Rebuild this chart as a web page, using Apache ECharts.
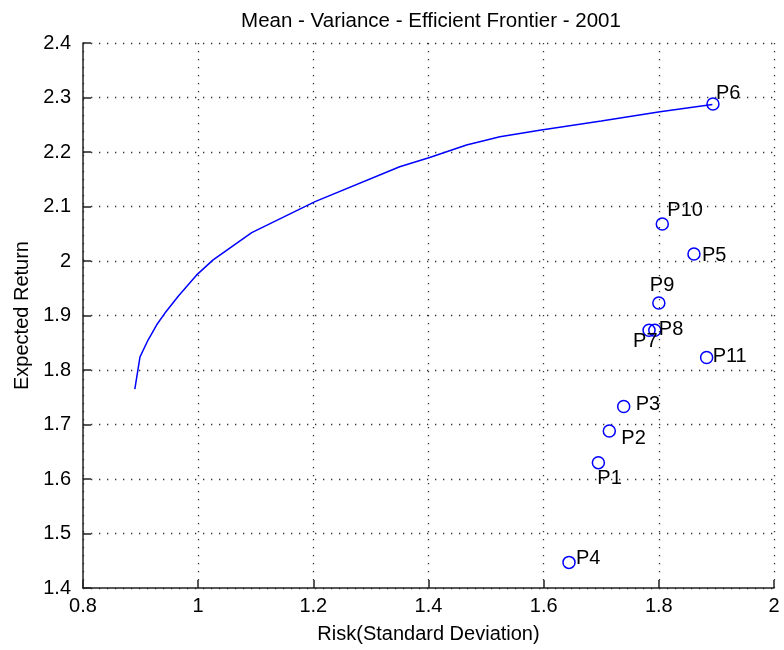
<!DOCTYPE html>
<html>
<head>
<meta charset="utf-8">
<script src="https://cdn.jsdelivr.net/npm/echarts@6/dist/echarts.min.js"></script>
<style>
  html, body { margin: 0; padding: 0; background: #fff; }
  #chart { width: 784px; height: 650px; }
</style>
</head>
<body>
<div id="chart"></div>
<script>
// Efficient frontier (risk, return) pairs
const frontierRisk   = [0.890, 0.899, 0.913, 0.928, 0.942, 0.965, 0.997, 1.026, 1.093, 1.203, 1.350, 1.402, 1.466, 1.524, 1.593, 1.700, 1.802, 1.893];
const frontierReturn = [1.765, 1.824, 1.855, 1.883, 1.904, 1.935, 1.974, 2.002, 2.052, 2.109, 2.173, 2.190, 2.213, 2.228, 2.240, 2.257, 2.274, 2.287];

// Individual portfolios
const portfolioNames  = ['P1', 'P2', 'P3', 'P4', 'P5', 'P6', 'P7', 'P8', 'P9', 'P10', 'P11'];
const portfolioRisk   = [1.695, 1.714, 1.739, 1.644, 1.861, 1.894, 1.783, 1.793, 1.800, 1.806, 1.883];
const portfolioReturn = [1.630, 1.688, 1.733, 1.447, 2.013, 2.288, 1.873, 1.873, 1.923, 2.068, 1.823];

// Axis ticks
const xTicks = { min: 0.8, max: 2.0, step: 0.2 };
const yTicks = { min: 1.4, max: 2.4, step: 0.1 };

// Label placement relative to each marker (pixels: left edge, vertical centre)
const labelOffsets = [[-1, 16], [12, 7], [12, -2], [7, -4], [8, 2], [3, -11], [-16, 11], [4, -1], [-9, -17], [5, -13], [6, -1]];

const FONT = 'Liberation Sans, Arial, sans-serif';
const gridDots = { color: '#333', width: 1.3, type: [1.3, 6.7] };

const chart = echarts.init(document.getElementById('chart'), null, { renderer: 'canvas' });

chart.setOption({
  animation: false,
  backgroundColor: '#fff',
  title: {
    text: 'Mean - Variance - Efficient Frontier - 2001',
    left: 426,
    textAlign: 'center',
    top: 6,
    textStyle: { fontFamily: FONT, fontSize: 20.5, fontWeight: 'normal', color: '#000' }
  },
  grid: { left: 83, right: 10, top: 43, bottom: 62, containLabel: false },
  xAxis: {
    type: 'value',
    min: xTicks.min, max: xTicks.max, interval: xTicks.step,
    name: 'Risk(Standard Deviation)',
    nameLocation: 'middle',
    nameGap: 36,
    nameTextStyle: { fontFamily: FONT, fontSize: 20, color: '#000' },
    axisLine: { show: true, onZero: false, lineStyle: { color: '#222', width: 1.5 } },
    axisTick: { show: true, inside: true, length: 8, lineStyle: { color: '#222', width: 1.5 } },
    axisLabel: { fontFamily: FONT, fontSize: 20, color: '#000', margin: 8,
      formatter: v => String(Math.round(v * 10) / 10) },
    splitLine: { show: true, lineStyle: gridDots }
  },
  yAxis: {
    type: 'value',
    min: yTicks.min, max: yTicks.max, interval: yTicks.step,
    name: 'Expected Return',
    nameLocation: 'middle',
    nameGap: 51,
    nameRotate: 90,
    nameTextStyle: { fontFamily: FONT, fontSize: 20, color: '#000' },
    axisLine: { show: true, onZero: false, lineStyle: { color: '#222', width: 1.5 } },
    axisTick: { show: true, inside: true, length: 8, lineStyle: { color: '#222', width: 1.5 } },
    axisLabel: { fontFamily: FONT, fontSize: 20, color: '#000', margin: 12,
      formatter: v => String(Math.round(v * 10) / 10) },
    splitLine: { show: true, lineStyle: gridDots }
  },
  series: [
    {
      type: 'line',
      data: frontierRisk.map((r, i) => [r, frontierReturn[i]]),
      showSymbol: false,
      lineStyle: { color: '#0000ff', width: 1.5 },
      z: 2
    },
    {
      type: 'scatter',
      symbol: 'circle',
      symbolSize: 12,
      itemStyle: { color: 'rgba(0,0,0,0)', borderColor: '#0000ff', borderWidth: 1.5, opacity: 1 },
      data: portfolioNames.map((n, i) => ({
        name: n,
        value: [portfolioRisk[i], portfolioReturn[i]],
        label: {
          show: true,
          position: 'inside',
          align: 'left',
          verticalAlign: 'middle',
          offset: labelOffsets[i],
          formatter: n,
          fontFamily: FONT,
          fontSize: 20,
          color: '#000',
          textBorderWidth: 0,
          textBorderColor: 'transparent'
        }
      })),
      z: 3
    }
  ]
});
</script>
</body>
</html>
